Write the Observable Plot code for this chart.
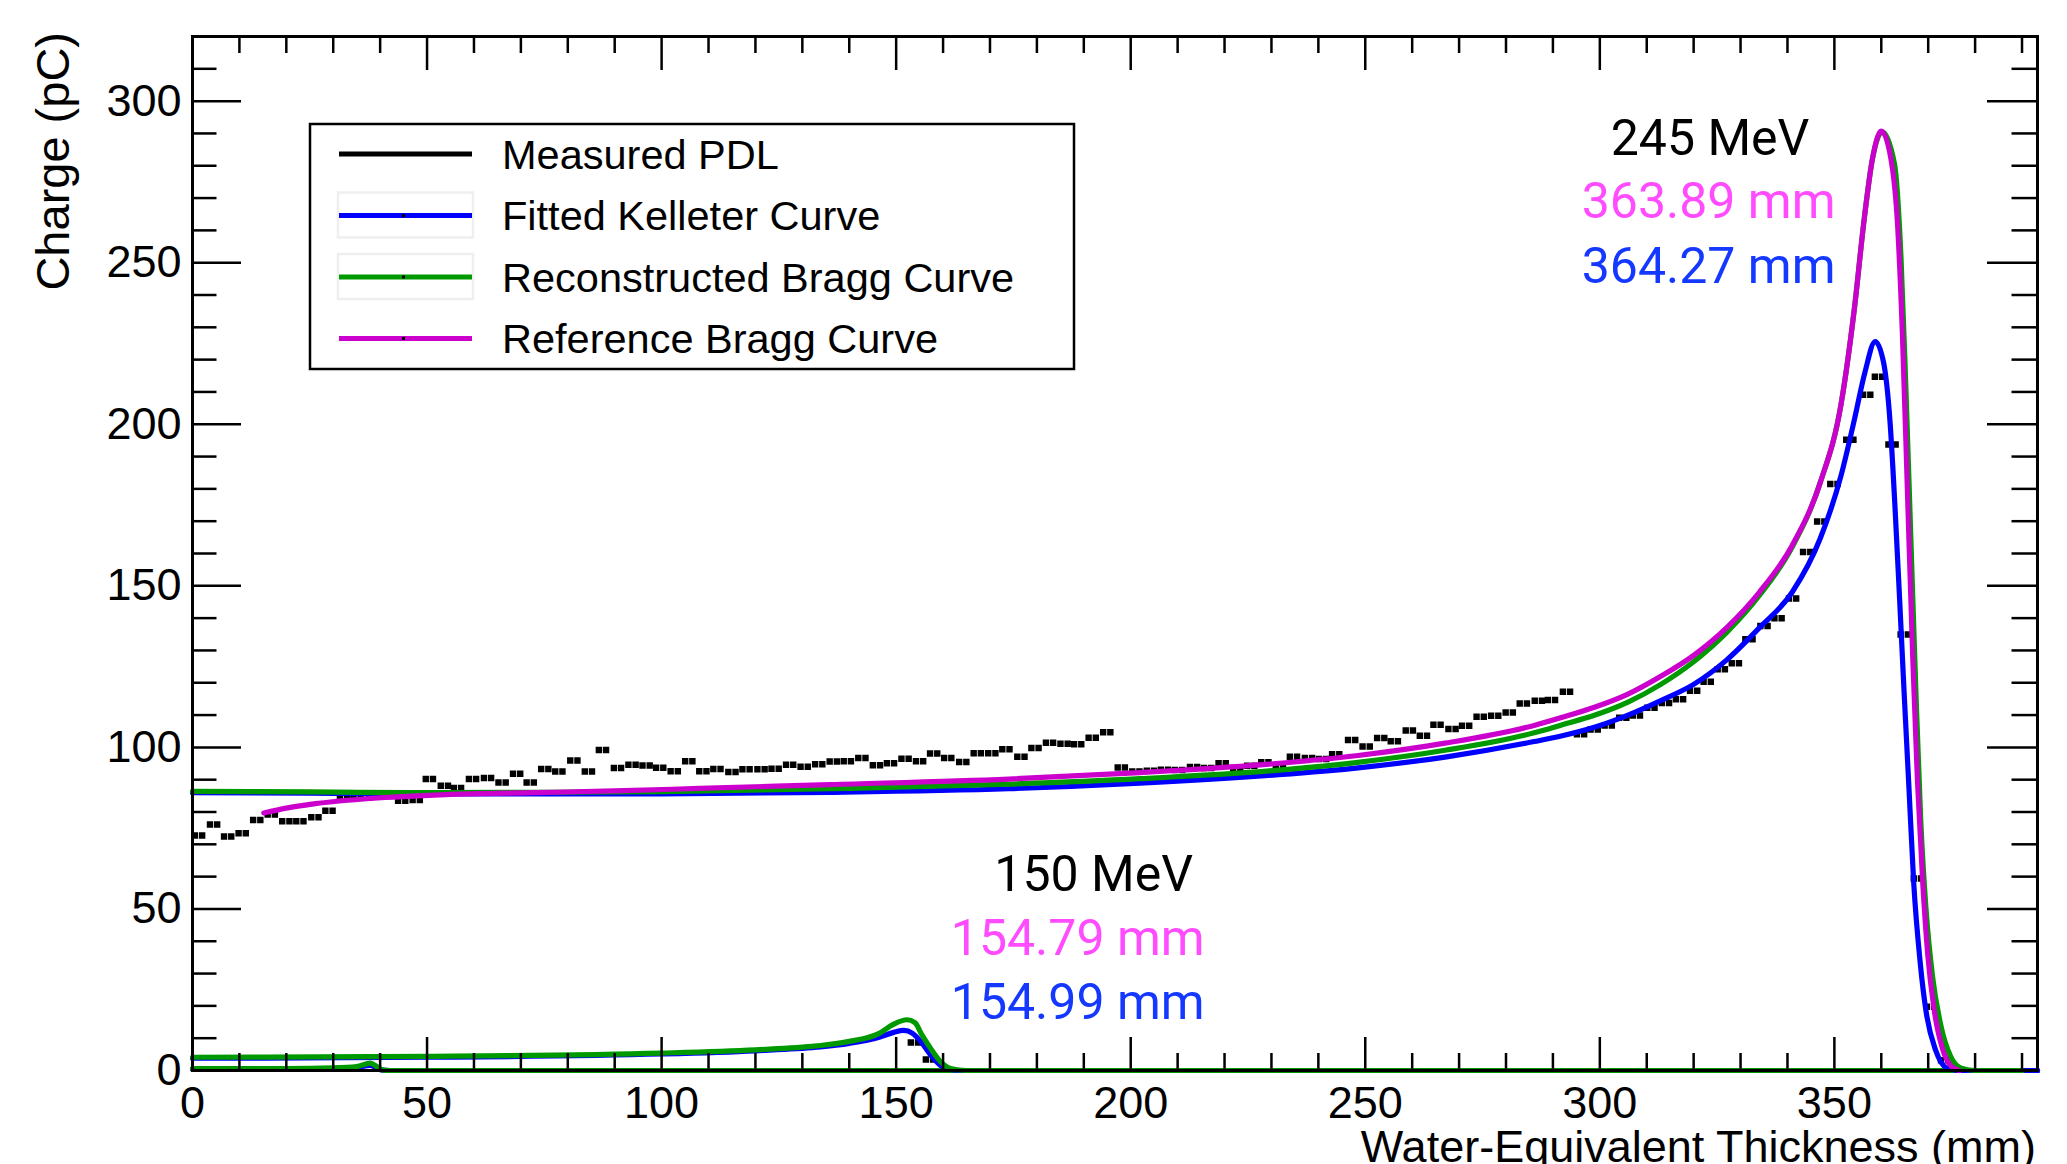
<!DOCTYPE html>
<html><head><meta charset="utf-8">
<script src="https://cdn.jsdelivr.net/npm/d3@7"></script>
<script src="https://cdn.jsdelivr.net/npm/@observablehq/plot@0.6"></script>
<style>
html,body{margin:0;padding:0;background:#fff;}
#chart{width:2067px;height:1164px;overflow:hidden;}
</style></head><body><div id="chart"></div>
<script>
// ---------- Measured PDL (245 MeV) ----------
const measured245X = [1.4,4.6,7.6,10.7,13.8,16.9,20.0,23.0,26.2,29.2,32.3,35.2,38.5,41.4,44.7,47.8,50.6,53.8,56.6,59.8,63.0,66.1,69.2,72.1,75.2,78.2,81.4,84.5,87.5,90.7,93.8,96.8,99.7,102.8,105.9,108.9,111.9,115.1,118.1,121.3,124.3,127.4,130.5,133.6,136.7,139.7,142.8,145.9,148.9,152.0,155.1,158.1,161.1,164.3,167.4,170.5,173.5,176.7,179.7,182.8,185.9,188.8,191.9,195.0,198.1,201.2,204.3,207.3,210.3,213.5,216.5,219.6,222.7,225.7,228.7,231.8,234.8,238.0,241.0,243.8,247.2,250.3,253.4,256.3,259.5,262.5,265.4,268.6,271.5,274.6,277.7,280.8,283.8,287.0,289.8,293.0,296.0,298.9,301.9,305.0,307.9,311.0,314.1,317.1,320.1,323.0,326.0,329.0,331.9,335.1,338.1,341.2,344.2,347.2,350.0,353.4,357.0,359.5,362.4,365.0,367.8,370.6,373.6];
const measured245Y = [72.7,76.1,72.4,73.4,77.5,79.2,77.1,77.1,78.4,80.4,84.3,84.8,85.0,85.0,83.5,83.7,90.2,88.1,87.4,90.2,90.5,89.1,91.8,89.1,93.3,92.5,95.9,92.5,99.2,93.6,94.6,94.4,93.7,92.6,95.7,92.6,93.3,92.4,93.2,93.2,93.4,94.6,94.0,94.8,95.6,95.7,96.7,94.5,95.1,96.5,95.7,98.1,96.7,95.5,98.2,98.2,99.4,97.1,99.8,101.4,101.1,101.0,103.0,104.7,93.8,92.5,92.8,93.1,93.0,93.9,93.6,95.1,93.6,94.3,95.4,94.3,97.1,96.7,96.4,97.9,102.3,100.3,102.9,101.9,105.2,103.6,107.0,105.7,106.7,109.5,109.8,110.8,113.6,114.4,114.7,117.2,104.1,105.5,106.8,109.2,109.9,112.3,113.7,114.9,117.5,120.3,124.2,126.0,133.5,137.6,140.0,146.1,160.5,169.9,181.5,195.2,209.1,214.7,193.7,134.9,59.4,19.7,3.2];
// ---------- Measured PDL (150 MeV, visible bins) ----------
const measured150X = [154.0,157.2];
const measured150Y = [8.7,3.4];

// ---------- 245 MeV curves ----------
const reference245X = [15.2,20,25.8,38,54,73,92,108,136,174,202,231,248,267,286,292,299,306,313,320,327,334,341,347,351.4,354.2,356.4,358.1,360.0,362.0,363.5,364.5,365.6,366.7,367.7,368.8,369.9,371.3,373.1,374.8,376.6];
const reference245Y = [79.7,81.2,82.5,84.2,85.4,86.0,86.6,87.3,88.5,90.2,92.2,95.0,97.4,101.3,106.8,109.3,112.5,116.5,122,128.5,137,148,162.5,182,206,235,264,282,290.7,282.6,261,228,178,128,90,59,36,18.5,6.5,1.5,0];
const reconstructed245X = [0,25,50,75,100,136,174,202,231,248,267,286,292,299,306,313,320,327,334,341,347,351.4,354.2,356.4,358.1,360.2,362.8,364.2,365.2,366.3,367.4,368.4,369.5,370.9,372.7,374.8,376.9,379.8,390];
const reconstructed245Y = [86.4,86.2,86.0,86.1,86.3,87.2,88.6,90.3,92.9,95.3,99.1,104.5,107,110,114,119.5,126.5,135.5,147,162,182,206,235,264,282,290.5,280.7,251.7,213,164.7,116.3,77.7,50.6,29.4,13.9,4.3,0.8,0,0];
const kelleter245X = [0,25,50,75,98,136,174,202,231,248,267,286,292,299,306,313,320,327,334,341,347,351.4,354.2,356.5,358.7,360.5,361.9,362.9,363.9,364.9,365.9,366.9,368.3,369.6,371.6,373.9,376.2,393.3];
const kelleter245Y = [86.0,85.8,85.6,85.6,85.6,86.1,87.2,88.9,91.5,93.6,97.0,101.8,103.6,106.3,110,114.5,119.5,127,137,148,164.7,184,201,216,225.6,219,200,175,146,116,87.4,58.4,33.3,17.8,6.2,0.8,0,0];

// ---------- 150 MeV curves ----------
const reconstructed150X = [0,50,100,120,133,140,146.4,149.3,152.3,154,155.5,157.5,159.3,161.6,165,390];
const reconstructed150Y = [4.1,4.4,5.4,6.4,7.6,9.0,11.5,14.2,15.7,14.8,11,6.5,3,0.6,0,0];
const kelleter150X = [0,50,100,120,133,140,146.4,149.5,151.6,153.5,155.5,157.5,159.5,161.5,164,393.3];
const kelleter150Y = [3.8,4.1,5.1,6.1,7.2,8.4,10.3,11.8,12.4,11.5,8.5,4.5,1.5,0.3,0,0];

// ---------- low-energy curves near the origin ----------
const reconstructedLowX = [0,20,30,35,37.9,39.3,40.5,42,390];
const reconstructedLowY = [0.6,0.6,0.8,1.2,2.3,1.2,0.2,0,0];
const kelleterLowX = [0,20,30,35,37.8,39.3,40.5,42,393.3];
const kelleterLowY = [0.4,0.4,0.6,0.9,1.6,0.8,0.1,0,0];

// ---------- annotations ----------
const annText  = ["245 MeV","363.89 mm","364.27 mm","150 MeV","154.79 mm","154.99 mm"];
const annX     = [323.5,323.2,323.2,192.1,188.7,188.7];
const annY     = [283.3,263.9,243.8,55.5,35.6,15.8];
const annColor = ["#000000","#ff4cff","#1438ff","#000000","#ff4cff","#1438ff"];

// ---------- axes ----------
const xTickLabels = [0,50,100,150,200,250,300,350];
const yTickLabels = [0,50,100,150,200,250,300];
const xMinorTicks = d3.range(10, 394, 10).filter(v => v % 50 !== 0);
const yMinorTicks = d3.range(10, 320, 10).filter(v => v % 50 !== 0);

const legendLabels = ["Measured PDL","Fitted Kelleter Curve","Reconstructed Bragg Curve","Reference Bragg Curve"];
const legendColors = ["#000000","#0000ff","#009a00","#cc00cc"];

const W = 2067, H = 1164, mL = 192, mR = 30, mT = 36, mB = 94;
const fw = W - mL - mR, fh = H - mT - mB;
const FONT = "'Liberation Sans', Arial, Helvetica, sans-serif";
const pts = (xs, ys) => xs.map((x, i) => ({x, y: ys[i]}));

const C_BLUE = "#0000ff", C_GREEN = "#009a00", C_MAG = "#cc00cc";
const LW = 5.2;
const lineOpts = (c) => ({x: "x", y: "y", stroke: c, strokeWidth: LW, curve: "monotone-x", strokeLinejoin: "round"});

const measured = pts(measured245X, measured245Y).concat(pts(measured150X, measured150Y));

const chart = Plot.plot({
  width: W, height: H,
  marginLeft: mL, marginRight: mR, marginTop: mT, marginBottom: mB,
  x: {domain: [0, 393.3], axis: null},
  y: {domain: [0, 320], axis: null},
  style: {background: "white", fontFamily: FONT},
  marks: [
    Plot.ruleY(measured, {y: "y", x1: d => d.x - 1.45, x2: d => d.x + 1.45, stroke: "black", strokeWidth: 6.5, strokeDasharray: "6.4 0.8"}),
    Plot.line(pts(kelleterLowX, kelleterLowY), lineOpts(C_BLUE)),
    Plot.line(pts(reconstructedLowX, reconstructedLowY), lineOpts(C_GREEN)),
    Plot.line(pts(kelleter150X, kelleter150Y), lineOpts(C_BLUE)),
    Plot.line(pts(reconstructed150X, reconstructed150Y), lineOpts(C_GREEN)),
    Plot.line(pts(kelleter245X, kelleter245Y), lineOpts(C_BLUE)),
    Plot.line(pts(reconstructed245X, reconstructed245Y), lineOpts(C_GREEN)),
    Plot.line(pts(reference245X, reference245Y), lineOpts(C_MAG)),
    // ticks (inward, on all four sides)
    Plot.tickX(xTickLabels, {x: d => d, insetTop: fh - 33, stroke: "black", strokeWidth: 2.5}),
    Plot.tickX(xMinorTicks, {x: d => d, insetTop: fh - 17, stroke: "black", strokeWidth: 2.5}),
    Plot.tickX(xTickLabels, {x: d => d, insetBottom: fh - 34, stroke: "black", strokeWidth: 2.5}),
    Plot.tickX(xMinorTicks, {x: d => d, insetBottom: fh - 17, stroke: "black", strokeWidth: 2.5}),
    Plot.tickY(yTickLabels, {y: d => d, insetRight: fw - 49, stroke: "black", strokeWidth: 2.5}),
    Plot.tickY(yMinorTicks, {y: d => d, insetRight: fw - 24.5, stroke: "black", strokeWidth: 2.5}),
    Plot.tickY(yTickLabels, {y: d => d, insetLeft: fw - 50, stroke: "black", strokeWidth: 2.5}),
    Plot.tickY(yMinorTicks, {y: d => d, insetLeft: fw - 25.5, stroke: "black", strokeWidth: 2.5}),
    // tick labels
    Plot.text(xTickLabels, {x: d => d, frameAnchor: "bottom", dy: 16, lineAnchor: "top", text: d => String(d), fontSize: 45, fontFamily: FONT, fill: "black"}),
    Plot.text(yTickLabels, {y: d => d, frameAnchor: "left", dx: -11, textAnchor: "end", lineAnchor: "middle", text: d => String(d), fontSize: 45, fontFamily: FONT, fill: "black"}),
    // annotations
    Plot.text(annText, {x: (d, i) => annX[i], y: (d, i) => annY[i], text: d => d, fill: (d, i) => annColor[i], fontSize: 50, fontFamily: "Roboto, 'Liberation Sans', sans-serif", textAnchor: "middle", lineAnchor: "bottom"}),
    Plot.frame({stroke: "black", strokeWidth: 3})
  ]
});
document.getElementById("chart").appendChild(chart);

// ---------- axis titles and legend ----------
const svg = d3.select(chart);
svg.append("text")
  .attr("transform", "translate(69,32) rotate(-90)")
  .attr("text-anchor", "end")
  .attr("font-family", FONT).attr("font-size", 47).attr("fill", "black")
  .text("Charge (pC)");
svg.append("text")
  .attr("x", 2036).attr("y", 1162)
  .attr("text-anchor", "end")
  .attr("font-family", FONT).attr("font-size", 45).attr("fill", "black")
  .text("Water-Equivalent Thickness (mm)");

const lg = svg.append("g");
lg.append("rect").attr("x", 310).attr("y", 124).attr("width", 764).attr("height", 245)
  .attr("fill", "white").attr("stroke", "black").attr("stroke-width", 2.5);
const rowY = [154, 215.5, 277, 338.5];
legendLabels.forEach((lab, i) => {
  const cy = rowY[i];
  if (i === 1 || i === 2) {
    lg.append("rect").attr("x", 338).attr("y", cy - 23).attr("width", 135).attr("height", 45)
      .attr("fill", "none").attr("stroke", "#efefef").attr("stroke-width", 2.5);
  }
  lg.append("line").attr("x1", 339).attr("x2", 472).attr("y1", cy).attr("y2", cy)
    .attr("stroke", legendColors[i]).attr("stroke-width", 5);
  if (i > 0) {
    lg.append("rect").attr("x", 402).attr("y", cy - 1.5).attr("width", 3).attr("height", 3).attr("fill", "black");
  }
  lg.append("text").attr("x", 502).attr("y", cy + 14.8)
    .attr("text-anchor", "start")
    .attr("font-family", FONT).attr("font-size", 41.5).attr("fill", "black").text(lab);
});
</script></body></html>
